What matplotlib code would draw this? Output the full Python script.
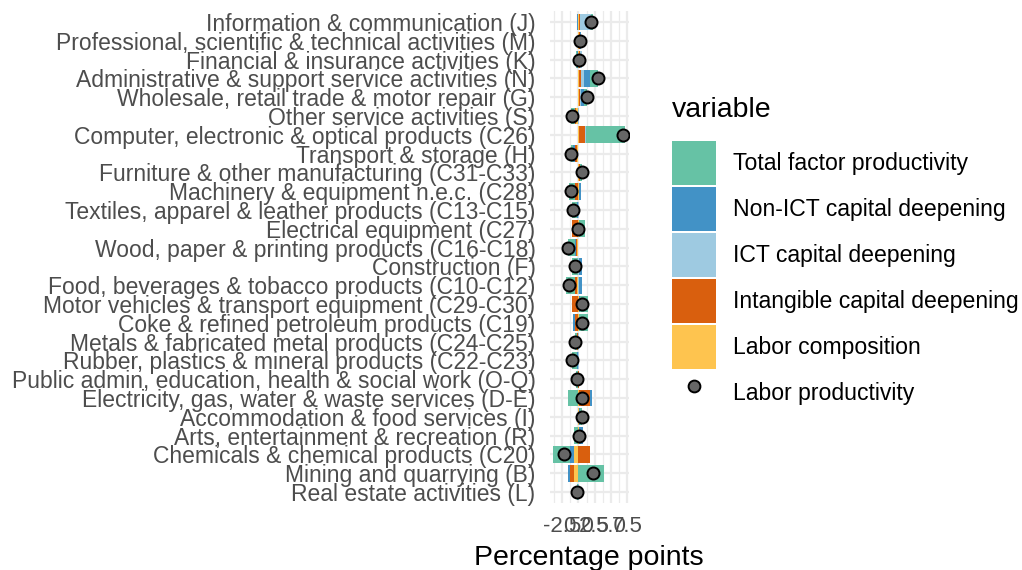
import matplotlib
matplotlib.use("Agg")
import matplotlib.pyplot as plt
from matplotlib.patches import Patch
from matplotlib.lines import Line2D
import numpy as np

plt.rcParams['font.family'] = ['Liberation Sans', 'DejaVu Sans']

# Categories, top to bottom
industries = [
    "Information & communication (J)",
    "Professional, scientific & technical activities (M)",
    "Financial & insurance activities (K)",
    "Administrative & support service activities (N)",
    "Wholesale, retail trade & motor repair (G)",
    "Other service activities (S)",
    "Computer, electronic & optical products (C26)",
    "Transport & storage (H)",
    "Furniture & other manufacturing (C31-C33)",
    "Machinery & equipment n.e.c. (C28)",
    "Textiles, apparel & leather products (C13-C15)",
    "Electrical equipment (C27)",
    "Wood, paper & printing products (C16-C18)",
    "Construction (F)",
    "Food, beverages & tobacco products (C10-C12)",
    "Motor vehicles & transport equipment (C29-C30)",
    "Coke & refined petroleum products (C19)",
    "Metals & fabricated metal products (C24-C25)",
    "Rubber, plastics & mineral products (C22-C23)",
    "Public admin, education, health & social work (O-Q)",
    "Electricity, gas, water & waste services (D-E)",
    "Accommodation & food services (I)",
    "Arts, entertainment & recreation (R)",
    "Chemicals & chemical products (C20)",
    "Mining and quarrying (B)",
    "Real estate activities (L)",
]

tfp        = [0.30, -0.10, -0.10, 1.20, 0.50, -0.60, 6.00, -0.30, 0.25, -1.05, -0.70, 0.85, -1.05, -0.90, -1.45, 1.20, 1.30, -0.30, -0.80, -0.30, -1.60, 0.30, -0.60, -2.70, 4.00, -0.30]
non_ict    = [-0.20, 0.10, -0.25, 1.00, 0.45, -0.10, 0.10, -0.30, 0.05, 0.20, -0.10, 0.05, -0.10, 0.45, 0.40, 0.10, -0.30, -0.05, -0.10, -0.05, 0.35, 0.05, 0.60, -0.50, -0.35, 0.05]
ict        = [1.70, 0.10, 0.30, 0.45, 0.20, 0.15, 0.15, -0.05, 0.05, 0.10, 0.05, 0.05, -0.05, 0.10, 0.10, 0.05, 0.05, 0.05, 0.05, 0.05, 0.05, 0.05, 0.05, 0.00, 0.00, 0.05]
intangible = [0.15, 0.15, 0.20, 0.30, 0.15, -0.10, 0.90, -0.20, 0.10, -0.50, -0.05, -1.00, -0.15, -0.05, -0.30, -1.00, -0.50, -0.10, -0.05, 0.05, 1.70, 0.05, -0.05, 1.80, -0.65, 0.00]
labor      = [0.05, 0.05, 0.05, 0.05, 0.05, -0.40, 0.05, -0.30, 0.10, 0.05, -0.10, 0.05, -0.25, -0.10, -0.20, 0.05, 0.05, -0.10, -0.05, -0.05, 0.05, 0.05, 0.05, -0.75, -0.65, 0.00]
labor_prod = [1.95, 0.30, 0.10, 3.00, 1.35, -1.05, 6.85, -1.20, 0.55, -1.20, -0.90, 0.00, -1.60, -0.55, -1.45, 0.50, 0.60, -0.55, -0.95, -0.30, 0.50, 0.50, 0.10, -2.20, 2.30, -0.20]

x_ticks = [-2.5, 0.0, 2.5, 5.0, 7.5]
x_tick_labels = ["-2.5", "0.0", "2.5", "5.0", "7.5"]

# stacking order from zero outward, legend order reversed
series = [
    ("Labor composition", labor, "#FEC44F"),
    ("Intangible capital deepening", intangible, "#D95F0E"),
    ("ICT capital deepening", ict, "#9ECAE1"),
    ("Non-ICT capital deepening", non_ict, "#4292C6"),
    ("Total factor productivity", tfp, "#66C2A5"),
]

W, H = 1022, 570
fig = plt.figure(figsize=(W / 100, H / 100), dpi=100)
px_l, px_r, px_t, px_b = 549.5, 628.5, 10.7, 503.3
ax = fig.add_axes([px_l / W, 1 - px_b / H, (px_r - px_l) / W, (px_b - px_t) / H])

n = len(industries)
ypos = np.arange(n)[::-1]  # first category at top

pos_off = np.zeros(n)
neg_off = np.zeros(n)
for name, vals, col in series:
    v = np.array(vals, dtype=float)
    left = np.where(v >= 0, pos_off, neg_off)
    ax.barh(ypos, v, left=left, height=0.9, color=col, linewidth=0, zorder=2)
    pos_off = pos_off + np.where(v >= 0, v, 0)
    neg_off = neg_off + np.where(v < 0, v, 0)

ax.scatter(labor_prod, ypos, s=75, facecolor="#666666", edgecolor="black", linewidths=1.4, zorder=3)

ax.set_xlim(-4.5, 7.76)
ax.set_ylim(-0.6, n - 0.4)
ax.set_yticks(ypos)
ax.set_yticklabels(industries)
ax.set_xticks(x_ticks)
ax.set_xticklabels(x_tick_labels)
ax.set_xticks([-3.75, -1.25, 1.25, 3.75, 6.25], minor=True)
ax.tick_params(axis="both", which="both", length=0, labelcolor="#4D4D4D")
ax.tick_params(axis="y", pad=10, labelsize=16.5)
ax.tick_params(axis="x", pad=9, labelsize=16)
ax.grid(True, which="major", color="#EBEBEB", linewidth=1.6, zorder=0)
ax.grid(True, which="minor", axis="x", color="#EBEBEB", linewidth=0.9, zorder=0)
ax.set_axisbelow(True)
for s in ax.spines.values():
    s.set_visible(False)
ax.set_xlabel("Percentage points", fontsize=20.5, color="black", labelpad=6)

handles = [Patch(facecolor=c, edgecolor="none", label=nm) for nm, _, c in series[::-1]]
handles.append(Line2D([], [], linestyle="none", marker="o", markersize=8.5,
                      markerfacecolor="#666666", markeredgecolor="black",
                      markeredgewidth=1.4, label="Labor productivity"))
fs = 16.6
fig.text(672 / W, 1 - 110 / H, "variable", fontsize=20.5, ha="left", va="center")
leg = fig.legend(handles=handles, loc="upper left", bbox_to_anchor=(672 / W, 1 - 141 / H),
                 frameon=False, fontsize=fs,
                 handlelength=1.91, handleheight=2.56, labelspacing=0.087,
                 handletextpad=0.74, borderpad=0, borderaxespad=0)

fig.savefig("out.png", dpi=100, facecolor="white")
